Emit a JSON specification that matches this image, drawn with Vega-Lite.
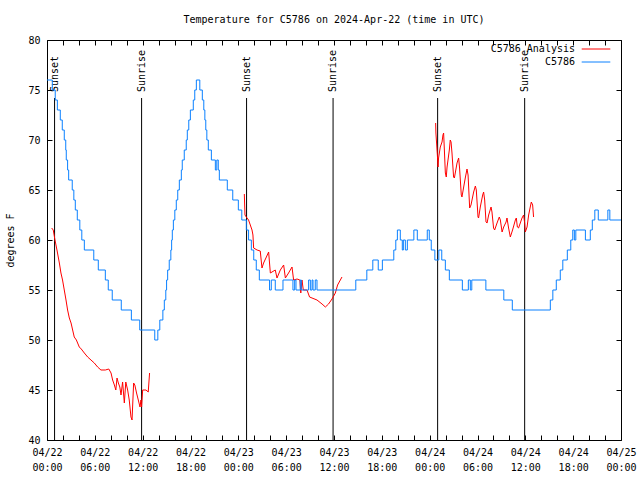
{
  "$schema": "https://vega.github.io/schema/vega-lite/v6.json",
  "width": 574,
  "height": 400,
  "autosize": {"type": "none"},
  "padding": {"left": 47, "top": 40, "right": 19, "bottom": 40},
  "background": "white",
  "title": {"text": "Temperature for C5786 on 2024-Apr-22 (time in UTC)", "font": "DejaVu Sans Mono", "fontSize": 10, "fontWeight": "normal", "color": "black", "offset": 10, "anchor": "middle"},
  "config": {"view": {"stroke": "black", "strokeWidth": 1}, "font": "DejaVu Sans Mono", "style": {"guide-label": {"lineBreak": "\n"}}, "axis": {"labelOverlap": false, "labelFlush": false, "labelBound": false}},
  "datasets": {
    "sun": [
      {"t": "2024-04-22T00:57Z", "event": "Sunset"},
      {"t": "2024-04-22T11:52Z", "event": "Sunrise"},
      {"t": "2024-04-23T01:02Z", "event": "Sunset"},
      {"t": "2024-04-23T11:53Z", "event": "Sunrise"},
      {"t": "2024-04-24T01:00Z", "event": "Sunset"},
      {"t": "2024-04-24T11:55Z", "event": "Sunrise"}
    ],
    "obs": [
      {"t": "2024-04-22T00:00Z", "v": 76, "series": "C5786"},
      {"t": "2024-04-22T00:40Z", "v": 75, "series": "C5786"},
      {"t": "2024-04-22T01:02Z", "v": 74, "series": "C5786"},
      {"t": "2024-04-22T01:18Z", "v": 73, "series": "C5786"},
      {"t": "2024-04-22T01:40Z", "v": 72, "series": "C5786"},
      {"t": "2024-04-22T01:55Z", "v": 71, "series": "C5786"},
      {"t": "2024-04-22T02:10Z", "v": 70, "series": "C5786"},
      {"t": "2024-04-22T02:21Z", "v": 69, "series": "C5786"},
      {"t": "2024-04-22T02:25Z", "v": 68, "series": "C5786"},
      {"t": "2024-04-22T02:35Z", "v": 67, "series": "C5786"},
      {"t": "2024-04-22T02:43Z", "v": 66, "series": "C5786"},
      {"t": "2024-04-22T03:10Z", "v": 65, "series": "C5786"},
      {"t": "2024-04-22T03:22Z", "v": 64, "series": "C5786"},
      {"t": "2024-04-22T03:33Z", "v": 63, "series": "C5786"},
      {"t": "2024-04-22T03:48Z", "v": 62, "series": "C5786"},
      {"t": "2024-04-22T04:07Z", "v": 61, "series": "C5786"},
      {"t": "2024-04-22T04:22Z", "v": 60, "series": "C5786"},
      {"t": "2024-04-22T04:41Z", "v": 59, "series": "C5786"},
      {"t": "2024-04-22T05:52Z", "v": 58, "series": "C5786"},
      {"t": "2024-04-22T06:26Z", "v": 57, "series": "C5786"},
      {"t": "2024-04-22T07:19Z", "v": 56, "series": "C5786"},
      {"t": "2024-04-22T07:41Z", "v": 55, "series": "C5786"},
      {"t": "2024-04-22T08:11Z", "v": 54, "series": "C5786"},
      {"t": "2024-04-22T09:19Z", "v": 53, "series": "C5786"},
      {"t": "2024-04-22T10:35Z", "v": 52, "series": "C5786"},
      {"t": "2024-04-22T11:38Z", "v": 51, "series": "C5786"},
      {"t": "2024-04-22T13:31Z", "v": 50, "series": "C5786"},
      {"t": "2024-04-22T13:54Z", "v": 51, "series": "C5786"},
      {"t": "2024-04-22T14:09Z", "v": 52, "series": "C5786"},
      {"t": "2024-04-22T14:32Z", "v": 53, "series": "C5786"},
      {"t": "2024-04-22T14:43Z", "v": 54, "series": "C5786"},
      {"t": "2024-04-22T14:54Z", "v": 55, "series": "C5786"},
      {"t": "2024-04-22T15:00Z", "v": 56, "series": "C5786"},
      {"t": "2024-04-22T15:08Z", "v": 57, "series": "C5786"},
      {"t": "2024-04-22T15:20Z", "v": 58, "series": "C5786"},
      {"t": "2024-04-22T15:32Z", "v": 59, "series": "C5786"},
      {"t": "2024-04-22T15:38Z", "v": 60, "series": "C5786"},
      {"t": "2024-04-22T15:43Z", "v": 61, "series": "C5786"},
      {"t": "2024-04-22T15:51Z", "v": 62, "series": "C5786"},
      {"t": "2024-04-22T16:02Z", "v": 63, "series": "C5786"},
      {"t": "2024-04-22T16:13Z", "v": 64, "series": "C5786"},
      {"t": "2024-04-22T16:24Z", "v": 65, "series": "C5786"},
      {"t": "2024-04-22T16:36Z", "v": 66, "series": "C5786"},
      {"t": "2024-04-22T16:51Z", "v": 67, "series": "C5786"},
      {"t": "2024-04-22T16:58Z", "v": 68, "series": "C5786"},
      {"t": "2024-04-22T17:13Z", "v": 69, "series": "C5786"},
      {"t": "2024-04-22T17:28Z", "v": 70, "series": "C5786"},
      {"t": "2024-04-22T17:36Z", "v": 71, "series": "C5786"},
      {"t": "2024-04-22T17:47Z", "v": 72, "series": "C5786"},
      {"t": "2024-04-22T17:59Z", "v": 73, "series": "C5786"},
      {"t": "2024-04-22T18:21Z", "v": 74, "series": "C5786"},
      {"t": "2024-04-22T18:32Z", "v": 75, "series": "C5786"},
      {"t": "2024-04-22T18:44Z", "v": 76, "series": "C5786"},
      {"t": "2024-04-22T19:10Z", "v": 75, "series": "C5786"},
      {"t": "2024-04-22T19:29Z", "v": 74, "series": "C5786"},
      {"t": "2024-04-22T19:40Z", "v": 73, "series": "C5786"},
      {"t": "2024-04-22T19:48Z", "v": 72, "series": "C5786"},
      {"t": "2024-04-22T19:55Z", "v": 71, "series": "C5786"},
      {"t": "2024-04-22T20:03Z", "v": 70, "series": "C5786"},
      {"t": "2024-04-22T20:14Z", "v": 69, "series": "C5786"},
      {"t": "2024-04-22T20:37Z", "v": 68, "series": "C5786"},
      {"t": "2024-04-22T21:07Z", "v": 67, "series": "C5786"},
      {"t": "2024-04-22T21:18Z", "v": 68, "series": "C5786"},
      {"t": "2024-04-22T21:29Z", "v": 67, "series": "C5786"},
      {"t": "2024-04-22T21:37Z", "v": 66, "series": "C5786"},
      {"t": "2024-04-22T22:37Z", "v": 65, "series": "C5786"},
      {"t": "2024-04-22T23:18Z", "v": 64, "series": "C5786"},
      {"t": "2024-04-23T00:00Z", "v": 63, "series": "C5786"},
      {"t": "2024-04-23T00:26Z", "v": 62, "series": "C5786"},
      {"t": "2024-04-23T01:00Z", "v": 61, "series": "C5786"},
      {"t": "2024-04-23T01:17Z", "v": 60, "series": "C5786"},
      {"t": "2024-04-23T01:38Z", "v": 59, "series": "C5786"},
      {"t": "2024-04-23T01:56Z", "v": 58, "series": "C5786"},
      {"t": "2024-04-23T02:15Z", "v": 57, "series": "C5786"},
      {"t": "2024-04-23T02:38Z", "v": 56, "series": "C5786"},
      {"t": "2024-04-23T03:55Z", "v": 55, "series": "C5786"},
      {"t": "2024-04-23T04:08Z", "v": 56, "series": "C5786"},
      {"t": "2024-04-23T04:38Z", "v": 55, "series": "C5786"},
      {"t": "2024-04-23T05:36Z", "v": 56, "series": "C5786"},
      {"t": "2024-04-23T06:51Z", "v": 55, "series": "C5786"},
      {"t": "2024-04-23T07:04Z", "v": 56, "series": "C5786"},
      {"t": "2024-04-23T07:14Z", "v": 55, "series": "C5786"},
      {"t": "2024-04-23T07:46Z", "v": 56, "series": "C5786"},
      {"t": "2024-04-23T07:54Z", "v": 55, "series": "C5786"},
      {"t": "2024-04-23T08:49Z", "v": 56, "series": "C5786"},
      {"t": "2024-04-23T09:02Z", "v": 55, "series": "C5786"},
      {"t": "2024-04-23T09:15Z", "v": 56, "series": "C5786"},
      {"t": "2024-04-23T09:22Z", "v": 55, "series": "C5786"},
      {"t": "2024-04-23T09:39Z", "v": 56, "series": "C5786"},
      {"t": "2024-04-23T09:52Z", "v": 55, "series": "C5786"},
      {"t": "2024-04-23T14:44Z", "v": 56, "series": "C5786"},
      {"t": "2024-04-23T16:07Z", "v": 57, "series": "C5786"},
      {"t": "2024-04-23T16:52Z", "v": 58, "series": "C5786"},
      {"t": "2024-04-23T17:33Z", "v": 57, "series": "C5786"},
      {"t": "2024-04-23T18:04Z", "v": 58, "series": "C5786"},
      {"t": "2024-04-23T19:30Z", "v": 59, "series": "C5786"},
      {"t": "2024-04-23T19:45Z", "v": 60, "series": "C5786"},
      {"t": "2024-04-23T19:57Z", "v": 61, "series": "C5786"},
      {"t": "2024-04-23T20:19Z", "v": 60, "series": "C5786"},
      {"t": "2024-04-23T20:34Z", "v": 59, "series": "C5786"},
      {"t": "2024-04-23T20:42Z", "v": 60, "series": "C5786"},
      {"t": "2024-04-23T20:57Z", "v": 59, "series": "C5786"},
      {"t": "2024-04-23T21:12Z", "v": 60, "series": "C5786"},
      {"t": "2024-04-23T22:01Z", "v": 61, "series": "C5786"},
      {"t": "2024-04-23T22:27Z", "v": 60, "series": "C5786"},
      {"t": "2024-04-23T23:42Z", "v": 61, "series": "C5786"},
      {"t": "2024-04-23T23:57Z", "v": 60, "series": "C5786"},
      {"t": "2024-04-24T00:12Z", "v": 59, "series": "C5786"},
      {"t": "2024-04-24T00:39Z", "v": 58, "series": "C5786"},
      {"t": "2024-04-24T01:09Z", "v": 59, "series": "C5786"},
      {"t": "2024-04-24T01:31Z", "v": 58, "series": "C5786"},
      {"t": "2024-04-24T01:58Z", "v": 57, "series": "C5786"},
      {"t": "2024-04-24T02:28Z", "v": 56, "series": "C5786"},
      {"t": "2024-04-24T04:06Z", "v": 55, "series": "C5786"},
      {"t": "2024-04-24T04:51Z", "v": 56, "series": "C5786"},
      {"t": "2024-04-24T05:06Z", "v": 55, "series": "C5786"},
      {"t": "2024-04-24T05:17Z", "v": 56, "series": "C5786"},
      {"t": "2024-04-24T07:03Z", "v": 55, "series": "C5786"},
      {"t": "2024-04-24T09:18Z", "v": 54, "series": "C5786"},
      {"t": "2024-04-24T10:22Z", "v": 53, "series": "C5786"},
      {"t": "2024-04-24T15:08Z", "v": 54, "series": "C5786"},
      {"t": "2024-04-24T15:27Z", "v": 55, "series": "C5786"},
      {"t": "2024-04-24T15:53Z", "v": 56, "series": "C5786"},
      {"t": "2024-04-24T16:23Z", "v": 57, "series": "C5786"},
      {"t": "2024-04-24T16:42Z", "v": 58, "series": "C5786"},
      {"t": "2024-04-24T17:16Z", "v": 59, "series": "C5786"},
      {"t": "2024-04-24T17:42Z", "v": 60, "series": "C5786"},
      {"t": "2024-04-24T17:57Z", "v": 61, "series": "C5786"},
      {"t": "2024-04-24T18:09Z", "v": 60, "series": "C5786"},
      {"t": "2024-04-24T18:20Z", "v": 61, "series": "C5786"},
      {"t": "2024-04-24T19:32Z", "v": 60, "series": "C5786"},
      {"t": "2024-04-24T20:09Z", "v": 61, "series": "C5786"},
      {"t": "2024-04-24T20:24Z", "v": 62, "series": "C5786"},
      {"t": "2024-04-24T20:43Z", "v": 63, "series": "C5786"},
      {"t": "2024-04-24T21:09Z", "v": 62, "series": "C5786"},
      {"t": "2024-04-24T22:21Z", "v": 63, "series": "C5786"},
      {"t": "2024-04-24T22:36Z", "v": 62, "series": "C5786"},
      {"t": "2024-04-25T00:00Z", "v": 62, "series": "C5786"}
    ],
    "analysis": [
      {"t": "2024-04-22T00:35Z", "v": 61.2, "run": "a", "series": "C5786 Analysis"},
      {"t": "2024-04-22T00:47Z", "v": 61.0, "run": "a", "series": "C5786 Analysis"},
      {"t": "2024-04-22T01:00Z", "v": 60.0, "run": "a", "series": "C5786 Analysis"},
      {"t": "2024-04-22T01:15Z", "v": 59.0, "run": "a", "series": "C5786 Analysis"},
      {"t": "2024-04-22T01:33Z", "v": 57.7, "run": "a", "series": "C5786 Analysis"},
      {"t": "2024-04-22T01:45Z", "v": 56.7, "run": "a", "series": "C5786 Analysis"},
      {"t": "2024-04-22T01:57Z", "v": 56.0, "run": "a", "series": "C5786 Analysis"},
      {"t": "2024-04-22T02:10Z", "v": 55.0, "run": "a", "series": "C5786 Analysis"},
      {"t": "2024-04-22T02:23Z", "v": 54.0, "run": "a", "series": "C5786 Analysis"},
      {"t": "2024-04-22T02:35Z", "v": 53.0, "run": "a", "series": "C5786 Analysis"},
      {"t": "2024-04-22T02:48Z", "v": 52.2, "run": "a", "series": "C5786 Analysis"},
      {"t": "2024-04-22T03:01Z", "v": 51.7, "run": "a", "series": "C5786 Analysis"},
      {"t": "2024-04-22T03:13Z", "v": 51.0, "run": "a", "series": "C5786 Analysis"},
      {"t": "2024-04-22T03:25Z", "v": 50.3, "run": "a", "series": "C5786 Analysis"},
      {"t": "2024-04-22T03:41Z", "v": 50.0, "run": "a", "series": "C5786 Analysis"},
      {"t": "2024-04-22T04:03Z", "v": 49.3, "run": "a", "series": "C5786 Analysis"},
      {"t": "2024-04-22T04:18Z", "v": 49.1, "run": "a", "series": "C5786 Analysis"},
      {"t": "2024-04-22T04:41Z", "v": 48.7, "run": "a", "series": "C5786 Analysis"},
      {"t": "2024-04-22T05:06Z", "v": 48.3, "run": "a", "series": "C5786 Analysis"},
      {"t": "2024-04-22T05:31Z", "v": 48.0, "run": "a", "series": "C5786 Analysis"},
      {"t": "2024-04-22T05:56Z", "v": 47.7, "run": "a", "series": "C5786 Analysis"},
      {"t": "2024-04-22T06:21Z", "v": 47.3, "run": "a", "series": "C5786 Analysis"},
      {"t": "2024-04-22T06:46Z", "v": 47.0, "run": "a", "series": "C5786 Analysis"},
      {"t": "2024-04-22T07:19Z", "v": 47.0, "run": "a", "series": "C5786 Analysis"},
      {"t": "2024-04-22T07:45Z", "v": 47.1, "run": "a", "series": "C5786 Analysis"},
      {"t": "2024-04-22T08:02Z", "v": 46.7, "run": "a", "series": "C5786 Analysis"},
      {"t": "2024-04-22T08:14Z", "v": 46.0, "run": "a", "series": "C5786 Analysis"},
      {"t": "2024-04-22T08:27Z", "v": 45.5, "run": "a", "series": "C5786 Analysis"},
      {"t": "2024-04-22T08:38Z", "v": 45.0, "run": "a", "series": "C5786 Analysis"},
      {"t": "2024-04-22T08:47Z", "v": 46.2, "run": "a", "series": "C5786 Analysis"},
      {"t": "2024-04-22T08:57Z", "v": 45.7, "run": "a", "series": "C5786 Analysis"},
      {"t": "2024-04-22T09:08Z", "v": 45.3, "run": "a", "series": "C5786 Analysis"},
      {"t": "2024-04-22T09:17Z", "v": 44.5, "run": "a", "series": "C5786 Analysis"},
      {"t": "2024-04-22T09:29Z", "v": 45.8, "run": "a", "series": "C5786 Analysis"},
      {"t": "2024-04-22T09:42Z", "v": 43.7, "run": "a", "series": "C5786 Analysis"},
      {"t": "2024-04-22T09:53Z", "v": 45.8, "run": "a", "series": "C5786 Analysis"},
      {"t": "2024-04-22T10:07Z", "v": 45.0, "run": "a", "series": "C5786 Analysis"},
      {"t": "2024-04-22T10:19Z", "v": 44.0, "run": "a", "series": "C5786 Analysis"},
      {"t": "2024-04-22T10:32Z", "v": 42.3, "run": "a", "series": "C5786 Analysis"},
      {"t": "2024-04-22T10:40Z", "v": 42.0, "run": "a", "series": "C5786 Analysis"},
      {"t": "2024-04-22T10:52Z", "v": 45.7, "run": "a", "series": "C5786 Analysis"},
      {"t": "2024-04-22T11:01Z", "v": 45.5, "run": "a", "series": "C5786 Analysis"},
      {"t": "2024-04-22T11:14Z", "v": 44.7, "run": "a", "series": "C5786 Analysis"},
      {"t": "2024-04-22T11:27Z", "v": 44.0, "run": "a", "series": "C5786 Analysis"},
      {"t": "2024-04-22T11:40Z", "v": 43.3, "run": "a", "series": "C5786 Analysis"},
      {"t": "2024-04-22T11:47Z", "v": 44.0, "run": "a", "series": "C5786 Analysis"},
      {"t": "2024-04-22T11:52Z", "v": 43.3, "run": "a", "series": "C5786 Analysis"},
      {"t": "2024-04-22T12:00Z", "v": 45.0, "run": "a", "series": "C5786 Analysis"},
      {"t": "2024-04-22T12:25Z", "v": 45.0, "run": "a", "series": "C5786 Analysis"},
      {"t": "2024-04-22T12:42Z", "v": 44.8, "run": "a", "series": "C5786 Analysis"},
      {"t": "2024-04-22T12:52Z", "v": 46.7, "run": "a", "series": "C5786 Analysis"},
      {"t": "2024-04-23T00:45Z", "v": 64.6, "run": "b", "series": "C5786 Analysis"},
      {"t": "2024-04-23T00:50Z", "v": 62.5, "run": "b", "series": "C5786 Analysis"},
      {"t": "2024-04-23T01:00Z", "v": 62.3, "run": "b", "series": "C5786 Analysis"},
      {"t": "2024-04-23T01:17Z", "v": 62.0, "run": "b", "series": "C5786 Analysis"},
      {"t": "2024-04-23T01:30Z", "v": 61.5, "run": "b", "series": "C5786 Analysis"},
      {"t": "2024-04-23T01:43Z", "v": 61.0, "run": "b", "series": "C5786 Analysis"},
      {"t": "2024-04-23T01:50Z", "v": 60.5, "run": "b", "series": "C5786 Analysis"},
      {"t": "2024-04-23T01:55Z", "v": 59.2, "run": "b", "series": "C5786 Analysis"},
      {"t": "2024-04-23T02:21Z", "v": 59.0, "run": "b", "series": "C5786 Analysis"},
      {"t": "2024-04-23T02:45Z", "v": 58.9, "run": "b", "series": "C5786 Analysis"},
      {"t": "2024-04-23T02:58Z", "v": 57.2, "run": "b", "series": "C5786 Analysis"},
      {"t": "2024-04-23T03:10Z", "v": 57.7, "run": "b", "series": "C5786 Analysis"},
      {"t": "2024-04-23T03:31Z", "v": 58.3, "run": "b", "series": "C5786 Analysis"},
      {"t": "2024-04-23T03:48Z", "v": 58.8, "run": "b", "series": "C5786 Analysis"},
      {"t": "2024-04-23T04:01Z", "v": 56.7, "run": "b", "series": "C5786 Analysis"},
      {"t": "2024-04-23T04:38Z", "v": 57.0, "run": "b", "series": "C5786 Analysis"},
      {"t": "2024-04-23T04:51Z", "v": 56.2, "run": "b", "series": "C5786 Analysis"},
      {"t": "2024-04-23T05:16Z", "v": 57.0, "run": "b", "series": "C5786 Analysis"},
      {"t": "2024-04-23T05:41Z", "v": 57.5, "run": "b", "series": "C5786 Analysis"},
      {"t": "2024-04-23T05:54Z", "v": 56.2, "run": "b", "series": "C5786 Analysis"},
      {"t": "2024-04-23T06:18Z", "v": 56.7, "run": "b", "series": "C5786 Analysis"},
      {"t": "2024-04-23T06:44Z", "v": 57.3, "run": "b", "series": "C5786 Analysis"},
      {"t": "2024-04-23T06:56Z", "v": 56.0, "run": "b", "series": "C5786 Analysis"},
      {"t": "2024-04-23T07:22Z", "v": 56.1, "run": "b", "series": "C5786 Analysis"},
      {"t": "2024-04-23T07:43Z", "v": 56.0, "run": "b", "series": "C5786 Analysis"},
      {"t": "2024-04-23T07:50Z", "v": 54.7, "run": "b", "series": "C5786 Analysis"},
      {"t": "2024-04-23T07:59Z", "v": 56.0, "run": "b", "series": "C5786 Analysis"},
      {"t": "2024-04-23T08:09Z", "v": 55.0, "run": "b", "series": "C5786 Analysis"},
      {"t": "2024-04-23T08:37Z", "v": 55.0, "run": "b", "series": "C5786 Analysis"},
      {"t": "2024-04-23T08:56Z", "v": 54.3, "run": "b", "series": "C5786 Analysis"},
      {"t": "2024-04-23T09:52Z", "v": 54.0, "run": "b", "series": "C5786 Analysis"},
      {"t": "2024-04-23T10:30Z", "v": 53.6, "run": "b", "series": "C5786 Analysis"},
      {"t": "2024-04-23T10:55Z", "v": 53.3, "run": "b", "series": "C5786 Analysis"},
      {"t": "2024-04-23T11:19Z", "v": 53.6, "run": "b", "series": "C5786 Analysis"},
      {"t": "2024-04-23T11:45Z", "v": 54.1, "run": "b", "series": "C5786 Analysis"},
      {"t": "2024-04-23T12:10Z", "v": 54.7, "run": "b", "series": "C5786 Analysis"},
      {"t": "2024-04-23T12:27Z", "v": 55.5, "run": "b", "series": "C5786 Analysis"},
      {"t": "2024-04-23T13:00Z", "v": 56.3, "run": "b", "series": "C5786 Analysis"},
      {"t": "2024-04-24T00:45Z", "v": 71.7, "run": "c", "series": "C5786 Analysis"},
      {"t": "2024-04-24T00:47Z", "v": 70.7, "run": "c", "series": "C5786 Analysis"},
      {"t": "2024-04-24T00:58Z", "v": 68.5, "run": "c", "series": "C5786 Analysis"},
      {"t": "2024-04-24T01:03Z", "v": 67.3, "run": "c", "series": "C5786 Analysis"},
      {"t": "2024-04-24T01:07Z", "v": 68.2, "run": "c", "series": "C5786 Analysis"},
      {"t": "2024-04-24T01:20Z", "v": 69.3, "run": "c", "series": "C5786 Analysis"},
      {"t": "2024-04-24T01:33Z", "v": 69.8, "run": "c", "series": "C5786 Analysis"},
      {"t": "2024-04-24T01:40Z", "v": 70.5, "run": "c", "series": "C5786 Analysis"},
      {"t": "2024-04-24T01:45Z", "v": 70.7, "run": "c", "series": "C5786 Analysis"},
      {"t": "2024-04-24T01:50Z", "v": 69.2, "run": "c", "series": "C5786 Analysis"},
      {"t": "2024-04-24T01:58Z", "v": 66.7, "run": "c", "series": "C5786 Analysis"},
      {"t": "2024-04-24T02:05Z", "v": 66.3, "run": "c", "series": "C5786 Analysis"},
      {"t": "2024-04-24T02:11Z", "v": 67.3, "run": "c", "series": "C5786 Analysis"},
      {"t": "2024-04-24T02:28Z", "v": 69.0, "run": "c", "series": "C5786 Analysis"},
      {"t": "2024-04-24T02:35Z", "v": 70.0, "run": "c", "series": "C5786 Analysis"},
      {"t": "2024-04-24T02:41Z", "v": 69.8, "run": "c", "series": "C5786 Analysis"},
      {"t": "2024-04-24T02:48Z", "v": 68.7, "run": "c", "series": "C5786 Analysis"},
      {"t": "2024-04-24T03:00Z", "v": 66.3, "run": "c", "series": "C5786 Analysis"},
      {"t": "2024-04-24T03:06Z", "v": 66.2, "run": "c", "series": "C5786 Analysis"},
      {"t": "2024-04-24T03:26Z", "v": 67.7, "run": "c", "series": "C5786 Analysis"},
      {"t": "2024-04-24T03:38Z", "v": 68.2, "run": "c", "series": "C5786 Analysis"},
      {"t": "2024-04-24T03:45Z", "v": 67.2, "run": "c", "series": "C5786 Analysis"},
      {"t": "2024-04-24T03:58Z", "v": 64.5, "run": "c", "series": "C5786 Analysis"},
      {"t": "2024-04-24T04:03Z", "v": 64.3, "run": "c", "series": "C5786 Analysis"},
      {"t": "2024-04-24T04:16Z", "v": 65.3, "run": "c", "series": "C5786 Analysis"},
      {"t": "2024-04-24T04:28Z", "v": 66.2, "run": "c", "series": "C5786 Analysis"},
      {"t": "2024-04-24T04:41Z", "v": 67.1, "run": "c", "series": "C5786 Analysis"},
      {"t": "2024-04-24T04:49Z", "v": 66.5, "run": "c", "series": "C5786 Analysis"},
      {"t": "2024-04-24T05:01Z", "v": 63.2, "run": "c", "series": "C5786 Analysis"},
      {"t": "2024-04-24T05:11Z", "v": 63.5, "run": "c", "series": "C5786 Analysis"},
      {"t": "2024-04-24T05:31Z", "v": 64.8, "run": "c", "series": "C5786 Analysis"},
      {"t": "2024-04-24T05:44Z", "v": 65.4, "run": "c", "series": "C5786 Analysis"},
      {"t": "2024-04-24T05:51Z", "v": 65.0, "run": "c", "series": "C5786 Analysis"},
      {"t": "2024-04-24T06:04Z", "v": 62.3, "run": "c", "series": "C5786 Analysis"},
      {"t": "2024-04-24T06:08Z", "v": 62.2, "run": "c", "series": "C5786 Analysis"},
      {"t": "2024-04-24T06:21Z", "v": 63.3, "run": "c", "series": "C5786 Analysis"},
      {"t": "2024-04-24T06:39Z", "v": 64.5, "run": "c", "series": "C5786 Analysis"},
      {"t": "2024-04-24T06:46Z", "v": 64.8, "run": "c", "series": "C5786 Analysis"},
      {"t": "2024-04-24T06:54Z", "v": 64.0, "run": "c", "series": "C5786 Analysis"},
      {"t": "2024-04-24T07:04Z", "v": 61.8, "run": "c", "series": "C5786 Analysis"},
      {"t": "2024-04-24T07:12Z", "v": 61.7, "run": "c", "series": "C5786 Analysis"},
      {"t": "2024-04-24T07:24Z", "v": 62.5, "run": "c", "series": "C5786 Analysis"},
      {"t": "2024-04-24T07:42Z", "v": 63.3, "run": "c", "series": "C5786 Analysis"},
      {"t": "2024-04-24T07:49Z", "v": 62.8, "run": "c", "series": "C5786 Analysis"},
      {"t": "2024-04-24T08:01Z", "v": 61.2, "run": "c", "series": "C5786 Analysis"},
      {"t": "2024-04-24T08:09Z", "v": 61.0, "run": "c", "series": "C5786 Analysis"},
      {"t": "2024-04-24T08:27Z", "v": 61.7, "run": "c", "series": "C5786 Analysis"},
      {"t": "2024-04-24T08:44Z", "v": 62.3, "run": "c", "series": "C5786 Analysis"},
      {"t": "2024-04-24T08:52Z", "v": 62.0, "run": "c", "series": "C5786 Analysis"},
      {"t": "2024-04-24T09:05Z", "v": 60.8, "run": "c", "series": "C5786 Analysis"},
      {"t": "2024-04-24T09:17Z", "v": 61.3, "run": "c", "series": "C5786 Analysis"},
      {"t": "2024-04-24T09:35Z", "v": 61.8, "run": "c", "series": "C5786 Analysis"},
      {"t": "2024-04-24T09:42Z", "v": 62.2, "run": "c", "series": "C5786 Analysis"},
      {"t": "2024-04-24T09:54Z", "v": 61.2, "run": "c", "series": "C5786 Analysis"},
      {"t": "2024-04-24T10:07Z", "v": 60.3, "run": "c", "series": "C5786 Analysis"},
      {"t": "2024-04-24T10:24Z", "v": 61.0, "run": "c", "series": "C5786 Analysis"},
      {"t": "2024-04-24T10:45Z", "v": 62.0, "run": "c", "series": "C5786 Analysis"},
      {"t": "2024-04-24T10:52Z", "v": 62.2, "run": "c", "series": "C5786 Analysis"},
      {"t": "2024-04-24T11:00Z", "v": 61.3, "run": "c", "series": "C5786 Analysis"},
      {"t": "2024-04-24T11:09Z", "v": 61.2, "run": "c", "series": "C5786 Analysis"},
      {"t": "2024-04-24T11:22Z", "v": 61.7, "run": "c", "series": "C5786 Analysis"},
      {"t": "2024-04-24T11:35Z", "v": 62.2, "run": "c", "series": "C5786 Analysis"},
      {"t": "2024-04-24T11:47Z", "v": 62.5, "run": "c", "series": "C5786 Analysis"},
      {"t": "2024-04-24T11:55Z", "v": 61.7, "run": "c", "series": "C5786 Analysis"},
      {"t": "2024-04-24T12:00Z", "v": 60.8, "run": "c", "series": "C5786 Analysis"},
      {"t": "2024-04-24T12:13Z", "v": 61.3, "run": "c", "series": "C5786 Analysis"},
      {"t": "2024-04-24T12:25Z", "v": 62.5, "run": "c", "series": "C5786 Analysis"},
      {"t": "2024-04-24T12:37Z", "v": 63.3, "run": "c", "series": "C5786 Analysis"},
      {"t": "2024-04-24T12:45Z", "v": 63.8, "run": "c", "series": "C5786 Analysis"},
      {"t": "2024-04-24T12:55Z", "v": 63.5, "run": "c", "series": "C5786 Analysis"},
      {"t": "2024-04-24T13:02Z", "v": 62.3, "run": "c", "series": "C5786 Analysis"}
    ]
  },
  "layer": [
    {
      "data": {"name": "sun"},
      "mark": {"type": "rule", "color": "black", "strokeWidth": 1},
      "encoding": {
        "x": {"field": "t", "type": "temporal", "axis": null},
        "y": {"datum": 74.2, "type": "quantitative", "axis": null},
        "y2": {"datum": 40}
      }
    },
    {
      "data": {"name": "sun"},
      "mark": {"type": "text", "angle": 270, "align": "left", "baseline": "middle", "font": "DejaVu Sans Mono", "fontSize": 10, "color": "black"},
      "encoding": {
        "x": {"field": "t", "type": "temporal", "axis": null},
        "y": {"datum": 74.8, "type": "quantitative", "axis": null},
        "text": {"field": "event"}
      }
    },
    {
      "data": {"name": "analysis"},
      "mark": {"type": "line", "strokeWidth": 1, "interpolate": "linear"},
      "encoding": {
        "x": {"field": "t", "type": "temporal",
          "axis": {"orient": "top", "title": null, "grid": false, "domain": false, "labels": false, "tickSize": -5, "tickColor": "black",
            "values": [
              {"year": 2024, "month": 4, "date": 22, "hours": 0, "utc": true}, {"year": 2024, "month": 4, "date": 22, "hours": 2, "utc": true}, {"year": 2024, "month": 4, "date": 22, "hours": 4, "utc": true},
              {"year": 2024, "month": 4, "date": 22, "hours": 6, "utc": true}, {"year": 2024, "month": 4, "date": 22, "hours": 8, "utc": true}, {"year": 2024, "month": 4, "date": 22, "hours": 10, "utc": true},
              {"year": 2024, "month": 4, "date": 22, "hours": 12, "utc": true}, {"year": 2024, "month": 4, "date": 22, "hours": 14, "utc": true}, {"year": 2024, "month": 4, "date": 22, "hours": 16, "utc": true},
              {"year": 2024, "month": 4, "date": 22, "hours": 18, "utc": true}, {"year": 2024, "month": 4, "date": 22, "hours": 20, "utc": true}, {"year": 2024, "month": 4, "date": 22, "hours": 22, "utc": true},
              {"year": 2024, "month": 4, "date": 23, "hours": 0, "utc": true}, {"year": 2024, "month": 4, "date": 23, "hours": 2, "utc": true}, {"year": 2024, "month": 4, "date": 23, "hours": 4, "utc": true},
              {"year": 2024, "month": 4, "date": 23, "hours": 6, "utc": true}, {"year": 2024, "month": 4, "date": 23, "hours": 8, "utc": true}, {"year": 2024, "month": 4, "date": 23, "hours": 10, "utc": true},
              {"year": 2024, "month": 4, "date": 23, "hours": 12, "utc": true}, {"year": 2024, "month": 4, "date": 23, "hours": 14, "utc": true}, {"year": 2024, "month": 4, "date": 23, "hours": 16, "utc": true},
              {"year": 2024, "month": 4, "date": 23, "hours": 18, "utc": true}, {"year": 2024, "month": 4, "date": 23, "hours": 20, "utc": true}, {"year": 2024, "month": 4, "date": 23, "hours": 22, "utc": true},
              {"year": 2024, "month": 4, "date": 24, "hours": 0, "utc": true}, {"year": 2024, "month": 4, "date": 24, "hours": 2, "utc": true}, {"year": 2024, "month": 4, "date": 24, "hours": 4, "utc": true},
              {"year": 2024, "month": 4, "date": 24, "hours": 6, "utc": true}, {"year": 2024, "month": 4, "date": 24, "hours": 8, "utc": true}, {"year": 2024, "month": 4, "date": 24, "hours": 10, "utc": true},
              {"year": 2024, "month": 4, "date": 24, "hours": 12, "utc": true}, {"year": 2024, "month": 4, "date": 24, "hours": 14, "utc": true}, {"year": 2024, "month": 4, "date": 24, "hours": 16, "utc": true},
              {"year": 2024, "month": 4, "date": 24, "hours": 18, "utc": true}, {"year": 2024, "month": 4, "date": 24, "hours": 20, "utc": true}, {"year": 2024, "month": 4, "date": 24, "hours": 22, "utc": true},
              {"year": 2024, "month": 4, "date": 25, "hours": 0, "utc": true}
            ]}},
        "y": {"field": "v", "type": "quantitative",
          "axis": {"orient": "right", "title": null, "grid": false, "domain": false, "labels": false, "tickSize": -5, "tickColor": "black", "values": [40, 45, 50, 55, 60, 65, 70, 75, 80]}},
        "color": {"field": "series", "type": "nominal"},
        "detail": {"field": "run"}
      }
    },
    {
      "data": {"name": "obs"},
      "mark": {"type": "line", "strokeWidth": 1, "interpolate": "step-after"},
      "encoding": {
        "x": {"field": "t", "type": "temporal",
          "scale": {"type": "utc", "domain": [{"year": 2024, "month": 4, "date": 22, "hours": 0, "utc": true}, {"year": 2024, "month": 4, "date": 25, "hours": 0, "utc": true}]},
          "axis": {"orient": "bottom", "title": null, "grid": false, "domain": false, "tickSize": -5, "tickColor": "black",
            "values": [
              {"year": 2024, "month": 4, "date": 22, "hours": 0, "utc": true}, {"year": 2024, "month": 4, "date": 22, "hours": 2, "utc": true}, {"year": 2024, "month": 4, "date": 22, "hours": 4, "utc": true},
              {"year": 2024, "month": 4, "date": 22, "hours": 6, "utc": true}, {"year": 2024, "month": 4, "date": 22, "hours": 8, "utc": true}, {"year": 2024, "month": 4, "date": 22, "hours": 10, "utc": true},
              {"year": 2024, "month": 4, "date": 22, "hours": 12, "utc": true}, {"year": 2024, "month": 4, "date": 22, "hours": 14, "utc": true}, {"year": 2024, "month": 4, "date": 22, "hours": 16, "utc": true},
              {"year": 2024, "month": 4, "date": 22, "hours": 18, "utc": true}, {"year": 2024, "month": 4, "date": 22, "hours": 20, "utc": true}, {"year": 2024, "month": 4, "date": 22, "hours": 22, "utc": true},
              {"year": 2024, "month": 4, "date": 23, "hours": 0, "utc": true}, {"year": 2024, "month": 4, "date": 23, "hours": 2, "utc": true}, {"year": 2024, "month": 4, "date": 23, "hours": 4, "utc": true},
              {"year": 2024, "month": 4, "date": 23, "hours": 6, "utc": true}, {"year": 2024, "month": 4, "date": 23, "hours": 8, "utc": true}, {"year": 2024, "month": 4, "date": 23, "hours": 10, "utc": true},
              {"year": 2024, "month": 4, "date": 23, "hours": 12, "utc": true}, {"year": 2024, "month": 4, "date": 23, "hours": 14, "utc": true}, {"year": 2024, "month": 4, "date": 23, "hours": 16, "utc": true},
              {"year": 2024, "month": 4, "date": 23, "hours": 18, "utc": true}, {"year": 2024, "month": 4, "date": 23, "hours": 20, "utc": true}, {"year": 2024, "month": 4, "date": 23, "hours": 22, "utc": true},
              {"year": 2024, "month": 4, "date": 24, "hours": 0, "utc": true}, {"year": 2024, "month": 4, "date": 24, "hours": 2, "utc": true}, {"year": 2024, "month": 4, "date": 24, "hours": 4, "utc": true},
              {"year": 2024, "month": 4, "date": 24, "hours": 6, "utc": true}, {"year": 2024, "month": 4, "date": 24, "hours": 8, "utc": true}, {"year": 2024, "month": 4, "date": 24, "hours": 10, "utc": true},
              {"year": 2024, "month": 4, "date": 24, "hours": 12, "utc": true}, {"year": 2024, "month": 4, "date": 24, "hours": 14, "utc": true}, {"year": 2024, "month": 4, "date": 24, "hours": 16, "utc": true},
              {"year": 2024, "month": 4, "date": 24, "hours": 18, "utc": true}, {"year": 2024, "month": 4, "date": 24, "hours": 20, "utc": true}, {"year": 2024, "month": 4, "date": 24, "hours": 22, "utc": true},
              {"year": 2024, "month": 4, "date": 25, "hours": 0, "utc": true}
            ],
            "labelExpr": "utchours(datum.value) % 6 == 0 ? utcFormat(datum.value, '%m/%d') + '\\n' + utcFormat(datum.value, '%H:%M') : ''",
            "labelFont": "DejaVu Sans Mono", "labelFontSize": 10, "labelColor": "black", "labelPadding": 12, "labelLineHeight": 15, "labelBaseline": "top", "labelAlign": "center", "labelFlush": false, "labelOverlap": false, "labelBound": false}},
        "y": {"field": "v", "type": "quantitative",
          "scale": {"domain": [40, 80], "nice": false, "zero": false},
          "axis": {"orient": "left", "title": "degrees F", "titleFont": "DejaVu Sans Mono", "titleFontSize": 10, "titleFontWeight": "normal", "titleColor": "black", "titlePadding": 12, "grid": false, "domain": false, "tickSize": -5, "tickColor": "black", "values": [40, 45, 50, 55, 60, 65, 70, 75, 80], "labelFont": "DejaVu Sans Mono", "labelFontSize": 10, "labelColor": "black", "labelPadding": 12}},
        "color": {"field": "series", "type": "nominal",
          "scale": {"domain": ["C5786 Analysis", "C5786"], "range": ["#ff0000", "#0a80ff"]},
          "legend": {"orient": "none", "legendX": 542, "legendY": 2, "title": null, "symbolType": "M-2.2,0H2.2", "symbolSize": 169, "symbolStrokeWidth": 1, "labelFont": "DejaVu Sans Mono", "labelFontSize": 10, "labelColor": "black", "labelAlign": "right", "labelOffset": -28, "rowPadding": 1, "padding": 0}}
      }
    }
  ],
  "resolve": {"axis": {"x": "independent", "y": "independent"}}
}
